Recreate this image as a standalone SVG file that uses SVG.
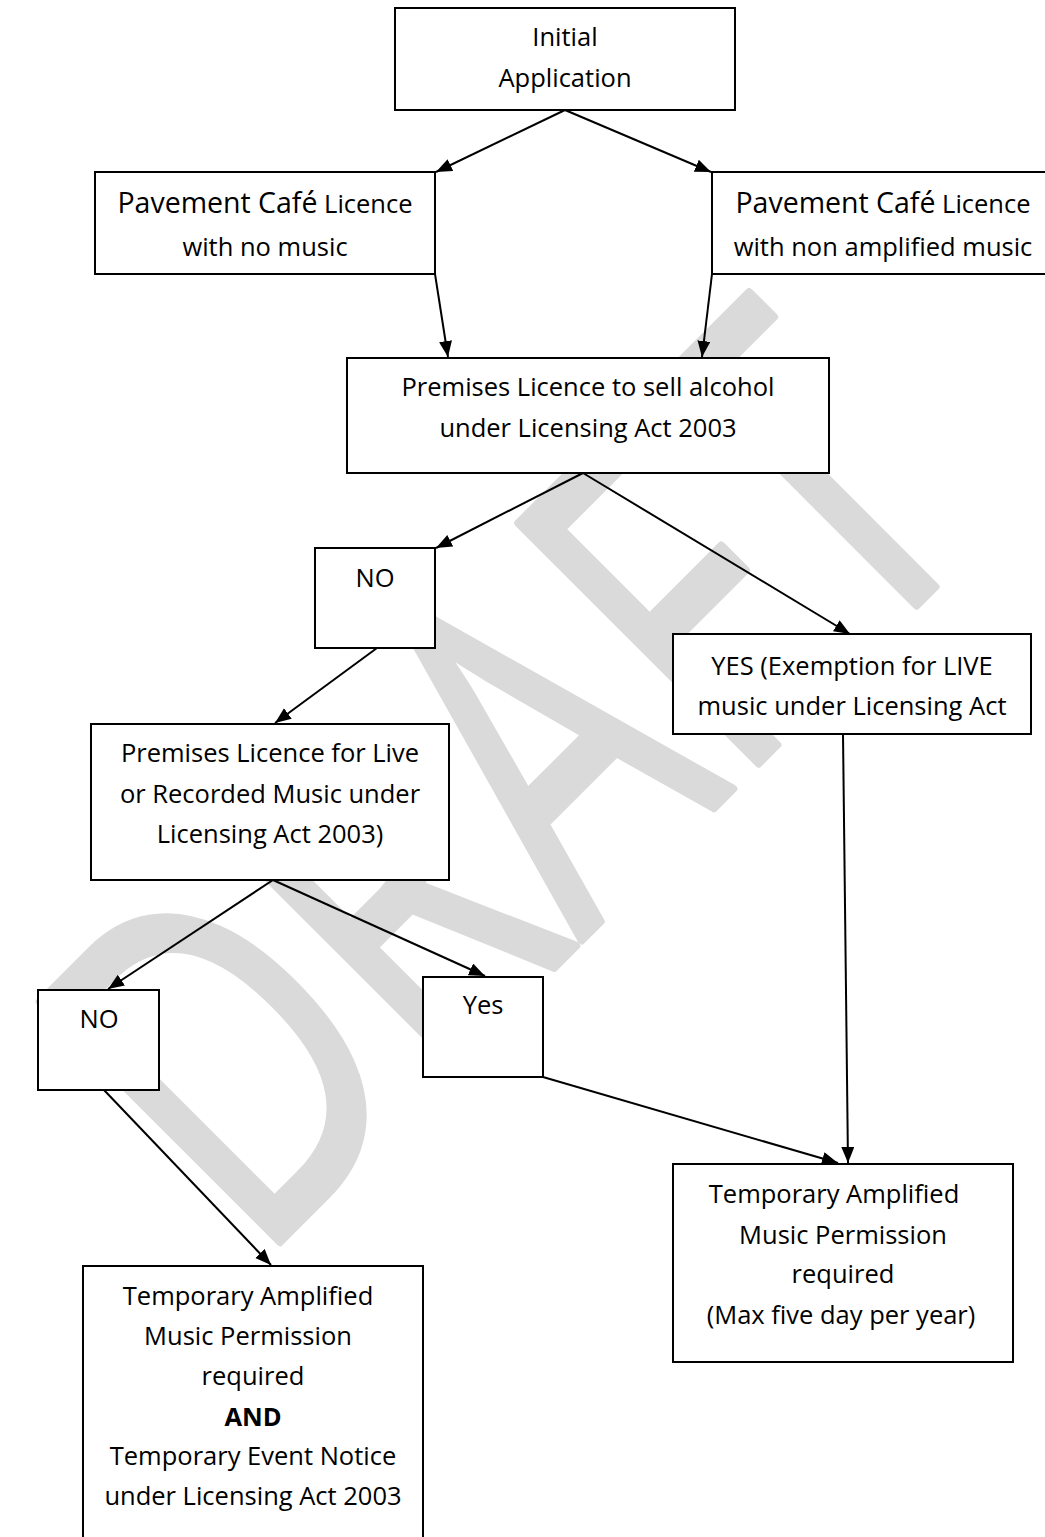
<svg xmlns="http://www.w3.org/2000/svg" width="1045" height="1537" viewBox="0 0 1045 1537">
<style>
  .box { fill: #ffffff; stroke: #000000; stroke-width: 2; }
  .t { font-family: "Open Sans", "Liberation Sans", sans-serif; font-size: 25.5px; fill: #000000; text-anchor: middle; }
  .big { font-size: 28.5px; }
  .b { font-weight: bold; }
  .conn line { stroke: #000000; stroke-width: 2; marker-end: url(#arrow); }
  .wm { font-family: "Open Sans", "Liberation Sans", sans-serif; font-size: 476px; fill: #dadada; stroke: #dadada; stroke-width: 8; stroke-linejoin: round; }
</style>
<defs>
  <marker id="arrow" markerUnits="userSpaceOnUse" markerWidth="18" markerHeight="14" refX="16" refY="6.5" orient="auto">
    <path d="M0,0 L16,6.5 L0,13 z" fill="#000000"/>
  </marker>
</defs>
<rect width="1045" height="1537" fill="#ffffff"/>
<g id="watermark" transform="translate(279,1243) rotate(-45) scale(0.72,1)">
  <text class="wm" x="-46" y="0">DRAFT</text>
</g>
<g id="connectors" class="conn">
  <line x1="565" y1="110" x2="436" y2="172"/>
  <line x1="565" y1="110" x2="711" y2="172"/>
  <line x1="435" y1="274" x2="448" y2="357"/>
  <line x1="712" y1="274" x2="702" y2="357"/>
  <line x1="583" y1="473" x2="436" y2="548"/>
  <line x1="583" y1="473" x2="850" y2="634"/>
  <line x1="377" y1="648" x2="275" y2="723"/>
  <line x1="843" y1="734" x2="848" y2="1163"/>
  <line x1="273" y1="880" x2="108" y2="989"/>
  <line x1="273" y1="880" x2="485" y2="976"/>
  <line x1="104" y1="1090" x2="271" y2="1265"/>
  <line x1="543" y1="1077" x2="838" y2="1163"/>
</g>
<g id="node-initial">
  <rect class="box" x="395" y="8" width="340" height="102"/>
  <text class="t" x="565" y="46">Initial</text>
  <text class="t" x="565" y="87">Application</text>
</g>
<g id="node-cafe-no-music">
  <rect class="box" x="95" y="172" width="340" height="102"/>
  <text class="t" x="265" y="213"><tspan class="big">Pavement Café</tspan> Licence</text>
  <text class="t" x="265" y="256">with no music</text>
</g>
<g id="node-cafe-non-amplified">
  <rect class="box" x="712" y="172" width="342" height="102"/>
  <text class="t" x="883" y="213"><tspan class="big">Pavement Café</tspan> Licence</text>
  <text class="t" x="883" y="256">with non amplified music</text>
</g>
<g id="node-premises-alcohol">
  <rect class="box" x="347" y="358" width="482" height="115"/>
  <text class="t" x="588" y="396">Premises Licence to sell alcohol</text>
  <text class="t" x="588" y="437">under Licensing Act 2003</text>
</g>
<g id="node-no-1">
  <rect class="box" x="315" y="548" width="120" height="100"/>
  <text class="t" x="375" y="587">NO</text>
</g>
<g id="node-yes-exemption">
  <rect class="box" x="673" y="634" width="358" height="100"/>
  <text class="t" x="852" y="675">YES (Exemption for LIVE</text>
  <text class="t" x="852" y="715">music under Licensing Act</text>
</g>
<g id="node-premises-music">
  <rect class="box" x="91" y="724" width="358" height="156"/>
  <text class="t" x="270" y="762">Premises Licence for Live</text>
  <text class="t" x="270" y="803">or Recorded Music under</text>
  <text class="t" x="270" y="843">Licensing Act 2003)</text>
</g>
<g id="node-no-2">
  <rect class="box" x="38" y="990" width="121" height="100"/>
  <text class="t" x="99" y="1028">NO</text>
</g>
<g id="node-yes-2">
  <rect class="box" x="423" y="977" width="120" height="100"/>
  <text class="t" x="483" y="1014">Yes</text>
</g>
<g id="node-tamp-right">
  <rect class="box" x="673" y="1164" width="340" height="198"/>
  <text class="t" x="834" y="1203">Temporary Amplified</text>
  <text class="t" x="843" y="1244">Music Permission</text>
  <text class="t" x="843" y="1283">required</text>
  <text class="t" x="841" y="1324">(Max five day per year)</text>
</g>
<g id="node-tamp-tenotice">
  <rect class="box" x="83" y="1266" width="340" height="300"/>
  <text class="t" x="248" y="1305">Temporary Amplified</text>
  <text class="t" x="248" y="1345">Music Permission</text>
  <text class="t" x="253" y="1385">required</text>
  <text class="t b" x="253" y="1426">AND</text>
  <text class="t" x="253" y="1465">Temporary Event Notice</text>
  <text class="t" x="253" y="1505">under Licensing Act 2003</text>
</g>
</svg>
